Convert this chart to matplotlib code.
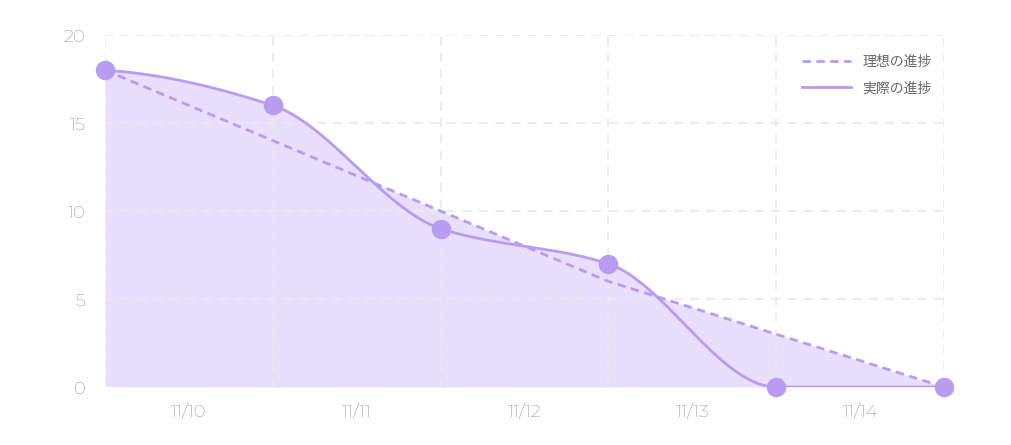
import numpy as np
import matplotlib
matplotlib.use("Agg")
import matplotlib.pyplot as plt

plt.rcParams['font.family'] = ['Noto Sans CJK JP', 'DejaVu Sans']

days = ["11/10", "11/11", "11/12", "11/13", "11/14"]
ideal = [18, 14, 10, 6, 3, 0]
actual = [18, 16, 9, 7, 0, 0]
yticks = [0, 5, 10, 15, 20]

def pchip(x, y, xs):
    x = np.asarray(x, float); y = np.asarray(y, float)
    h = np.diff(x); d = np.diff(y) / h
    n = len(x); m = np.zeros(n)
    m[0], m[-1] = d[0] * 0.3, d[-1]
    for i in range(1, n - 1):
        if d[i-1] * d[i] <= 0:
            m[i] = 0
        else:
            w1 = 2*h[i] + h[i-1]; w2 = h[i] + 2*h[i-1]
            m[i] = (w1 + w2) / (w1/d[i-1] + w2/d[i])
    out = np.empty_like(xs)
    for k, xv in enumerate(xs):
        i = min(np.searchsorted(x, xv, side='right') - 1, n - 2)
        t = (xv - x[i]) / h[i]
        h00 = 2*t**3 - 3*t**2 + 1; h10 = t**3 - 2*t**2 + t
        h01 = -2*t**3 + 3*t**2; h11 = t**3 - t**2
        out[k] = h00*y[i] + h10*h[i]*m[i] + h01*y[i+1] + h11*h[i]*m[i+1]
    return out

x = np.arange(len(actual))
xs = np.linspace(0, len(actual) - 1, 600)
ys = pchip(x, actual, xs)
yi = np.interp(xs, x, ideal)

fig = plt.figure(figsize=(10.12, 4.45), dpi=100)
ax = fig.add_axes([105/1012, 1 - 387/445, (944-105)/1012, (387-35)/445])
line_c = '#b89cf2'
ax.fill_between(xs, 0, np.maximum(ys, yi), color='#e8dffd', lw=0)
ax.plot(x, ideal, color=line_c, lw=2, ls=(0, (3, 2)), label='理想の進捗')
ax.plot(xs, ys, color=line_c, lw=2, label='実際の進捗')
ax.scatter(x, actual, s=170, color=line_c, zorder=5, clip_on=False)

ax.set_xlim(0, len(actual) - 1)
ax.set_ylim(0, 20)
ax.set_xticks(x)
ax.set_xticklabels([])
ax.set_xticks(np.arange(len(days)) + 0.5, minor=True)
ax.set_xticklabels(days, minor=True)
ax.set_yticks(yticks)
ax.grid(True, color='#ebebeb', ls=(0, (5, 4)), lw=1.3)
for s in ax.spines.values():
    s.set_visible(False)
ax.tick_params(which='both', length=0, colors='#666666', labelsize=13)
for lab in ax.get_xticklabels(minor=True) + ax.get_yticklabels():
    lab.set_fontfamily(['Montserrat', 'Lato', 'DejaVu Sans'])
    lab.set_fontweight('medium')
ax.tick_params(axis='x', which='minor', pad=12)
ax.tick_params(axis='y', pad=14)
leg = ax.legend(loc='upper right', frameon=False, fontsize=10, handlelength=3.5,
                labelcolor='#666666', bbox_to_anchor=(1.0, 0.98), labelspacing=0.9)
fig.savefig('out.png', dpi=100)
